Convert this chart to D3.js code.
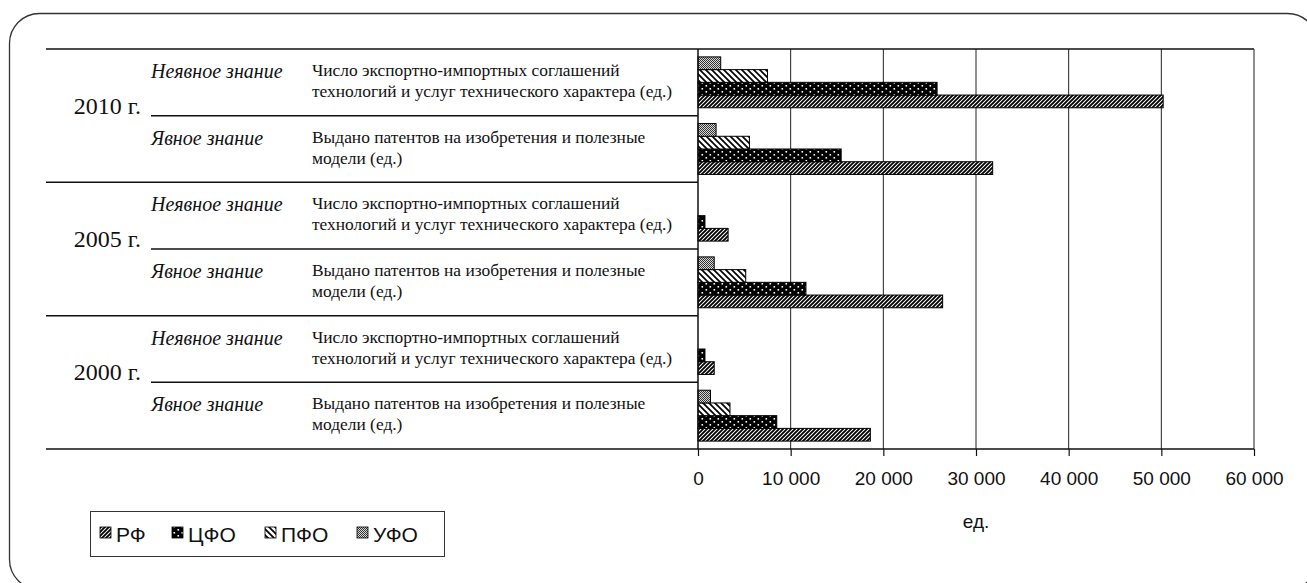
<!DOCTYPE html>
<html lang="ru">
<head>
<meta charset="utf-8">
<script src="https://cdn.jsdelivr.net/npm/d3@7"></script>
<style>
  html, body { margin: 0; padding: 0; background: #fff; }
  svg { display: block; }
  .serif { font-family: "Liberation Serif", "Times New Roman", serif; fill: #111; }
  .sans { font-family: "Liberation Sans", Arial, sans-serif; fill: #111; }
</style>
</head>
<body>
<svg id="chart" width="1307" height="583"></svg>
<script>
// Rows, bottom to top: year, kind of knowledge, indicator
const years = ["2000 г.", "2005 г.", "2010 г."];
const knowledgeTypes = ["Явное знание", "Неявное знание"];
const indicators = [
  ["Выдано патентов на изобретения и полезные", "модели (ед.)"],
  ["Число экспортно-импортных соглашений", "технологий и услуг технического характера (ед.)"]
];
const categories = ["2000-explicit", "2000-tacit", "2005-explicit", "2005-tacit", "2010-explicit", "2010-tacit"];

// Series (units), in the same order as categories
const seriesNames = ["РФ", "ЦФО", "ПФО", "УФО"];
const valuesRF  = [18600, 1750, 26400, 3250, 31800, 50200];
const valuesCFO = [8500, 750, 11650, 750, 15450, 25800];
const valuesPFO = [3450, 0, 5150, 0, 5550, 7500];
const valuesUFO = [1350, 0, 1750, 0, 1950, 2450];
const seriesValues = [valuesRF, valuesCFO, valuesPFO, valuesUFO];

const xTicks = [0, 10000, 20000, 30000, 40000, 50000, 60000];
const xTitle = "ед.";

const svg = d3.select("#chart");
const ink = "#111";

// Fill patterns for the four series
const defs = svg.append("defs");
const pRF = defs.append("pattern").attr("id", "p-rf").attr("patternUnits", "userSpaceOnUse")
  .attr("width", 4).attr("height", 4);
pRF.append("rect").attr("width", 4).attr("height", 4).attr("fill", "#fff");
pRF.append("path").attr("d", "M-1,1 L1,-1 M0,4 L4,0 M3,5 L5,3")
  .attr("stroke", "#000").attr("stroke-width", 1.9);

const pCFO = defs.append("pattern").attr("id", "p-cfo").attr("patternUnits", "userSpaceOnUse")
  .attr("width", 8).attr("height", 6);
pCFO.append("rect").attr("width", 8).attr("height", 6).attr("fill", "#000");
pCFO.append("rect").attr("x", 1.5).attr("y", 1).attr("width", 1.6).attr("height", 1.6).attr("fill", "#fff");
pCFO.append("rect").attr("x", 5.5).attr("y", 4).attr("width", 1.6).attr("height", 1.6).attr("fill", "#fff");

const pPFO = defs.append("pattern").attr("id", "p-pfo").attr("patternUnits", "userSpaceOnUse")
  .attr("width", 6).attr("height", 6);
pPFO.append("rect").attr("width", 6).attr("height", 6).attr("fill", "#fff");
pPFO.append("path").attr("d", "M-1,5 L1,7 M0,0 L6,6 M5,-1 L7,1")
  .attr("stroke", "#000").attr("stroke-width", 1.7);

const pUFO = defs.append("pattern").attr("id", "p-ufo").attr("patternUnits", "userSpaceOnUse")
  .attr("width", 2).attr("height", 2);
pUFO.append("rect").attr("width", 2).attr("height", 2).attr("fill", "#d8d8d8");
pUFO.append("rect").attr("width", 1).attr("height", 1).attr("fill", "#333");
pUFO.append("rect").attr("x", 1).attr("y", 1).attr("width", 1).attr("height", 1).attr("fill", "#333");

const fills = ["url(#p-rf)", "url(#p-cfo)", "url(#p-pfo)", "url(#p-ufo)"];

// Rounded frame around the whole figure
svg.append("rect").attr("x", 9.5).attr("y", 13.5).attr("width", 1308).attr("height", 576)
  .attr("rx", 30).attr("ry", 30).attr("fill", "none").attr("stroke", "#333").attr("stroke-width", 1.3);

// Scales
const plotLeft = 698, plotRight = 1254, plotTop = 49, plotBottom = 449;
const x = d3.scaleLinear().domain([0, 60000]).range([plotLeft, plotRight]);
const y = d3.scaleBand().domain(categories).range([plotBottom, plotTop]).padding(0);
// series stacked top-to-bottom: УФО, ПФО, ЦФО, РФ
const ySeries = d3.scaleBand().domain(seriesNames.slice().reverse())
  .range([0, y.bandwidth()]).paddingInner(0).paddingOuter(0.62);

// Vertical gridlines
svg.append("g").selectAll("line").data(xTicks.slice(1, -1)).join("line")
  .attr("x1", d => x(d)).attr("x2", d => x(d))
  .attr("y1", plotTop).attr("y2", plotBottom)
  .attr("stroke", "#222").attr("stroke-width", 1);

// Bars
seriesNames.forEach((name, si) => {
  svg.append("g").selectAll("rect")
    .data(categories.map((c, ci) => ({ c, v: seriesValues[si][ci] })).filter(d => d.v > 0))
    .join("rect")
    .attr("x", x(0))
    .attr("y", d => y(d.c) + ySeries(name))
    .attr("width", d => x(d.v) - x(0))
    .attr("height", ySeries.bandwidth())
    .attr("fill", fills[si])
    .attr("stroke", "#000").attr("stroke-width", 1);
});

// Plot frame: top and right edges
svg.append("line").attr("x1", 46).attr("x2", plotRight).attr("y1", plotTop).attr("y2", plotTop)
  .attr("stroke", ink).attr("stroke-width", 1.5);
svg.append("line").attr("x1", plotRight).attr("x2", plotRight).attr("y1", plotTop).attr("y2", plotBottom)
  .attr("stroke", "#444").attr("stroke-width", 1.2);

// Bottom axis
const fmt = d3.formatLocale({ decimal: ",", thousands: " ", grouping: [3], currency: ["", ""] }).format(",");
const xAxis = svg.append("g").attr("transform", `translate(0,${plotBottom})`)
  .call(d3.axisBottom(x).tickValues(xTicks).tickFormat(fmt).tickSize(7).tickPadding(16));
xAxis.select(".domain").remove();
xAxis.selectAll(".tick line").attr("stroke", ink).attr("stroke-width", 1.2);
xAxis.selectAll(".tick text").attr("class", "sans").style("font-size", "19px").attr("fill", ink);
svg.append("line").attr("x1", 46).attr("x2", plotRight).attr("y1", plotBottom).attr("y2", plotBottom)
  .attr("stroke", ink).attr("stroke-width", 1.6);

// Vertical category axis
svg.append("line").attr("x1", plotLeft).attr("x2", plotLeft).attr("y1", plotTop).attr("y2", plotBottom)
  .attr("stroke", ink).attr("stroke-width", 1.5);

svg.append("text").attr("class", "sans").attr("x", (plotLeft + plotRight) / 2).attr("y", 528)
  .attr("text-anchor", "middle").style("font-size", "19px").text(xTitle);

// Row table on the left
years.forEach((yr, yi) => {
  const explicitCat = categories[yi * 2];
  const midY = y(explicitCat);           // boundary between the two rows of the year
  const bottomY = y(explicitCat) + y.bandwidth();
  // separator between years
  if (yi > 0) {
    svg.append("line").attr("x1", 46).attr("x2", plotLeft).attr("y1", bottomY).attr("y2", bottomY)
      .attr("stroke", ink).attr("stroke-width", 1.5);
  }
  // separator within the year
  svg.append("line").attr("x1", 151).attr("x2", plotLeft).attr("y1", midY).attr("y2", midY)
    .attr("stroke", ink).attr("stroke-width", 1.5);
  svg.append("text").attr("class", "serif").attr("x", 141).attr("y", midY - 2)
    .attr("text-anchor", "end").style("font-size", "24px").text(yr);
});

categories.forEach((c, ci) => {
  const kind = ci % 2;
  const top = y(c);
  svg.append("text").attr("class", "serif").attr("x", 151).attr("y", top + 29)
    .style("font-size", "20px").style("font-style", "italic").text(knowledgeTypes[kind]);
  const t = svg.append("text").attr("class", "serif").attr("x", 312).attr("y", top + 27)
    .style("font-size", "17.4px");
  indicators[kind].forEach((line, li) => {
    t.append("tspan").attr("x", 312).attr("dy", li === 0 ? 0 : 21).text(line);
  });
});

// Legend
const legend = svg.append("g");
legend.append("rect").attr("x", 90.5).attr("y", 511.5).attr("width", 354).attr("height", 45)
  .attr("fill", "#fff").attr("stroke", "#333").attr("stroke-width", 1);
const legendSwatchX = [100, 172, 265, 357];
seriesNames.forEach((name, i) => {
  legend.append("rect").attr("x", legendSwatchX[i]).attr("y", 527).attr("width", 11).attr("height", 11)
    .attr("fill", fills[i]).attr("stroke", "#000").attr("stroke-width", 0.8);
  legend.append("text").attr("class", "sans").attr("x", legendSwatchX[i] + 16).attr("y", 542)
    .style("font-size", "21px").text(name);
});
</script>
</body>
</html>
